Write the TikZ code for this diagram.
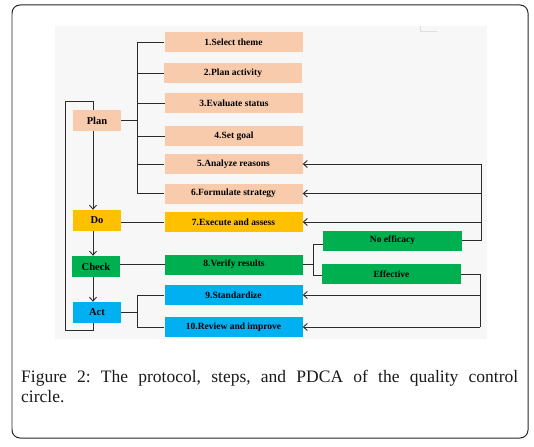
\documentclass[tikz,border=0pt]{standalone}
\usepackage{fontspec}
\setmainfont{Liberation Serif}
\usetikzlibrary{arrows.meta}
\definecolor{peach}{HTML}{F8CBAD}
\definecolor{amber}{HTML}{FFC000}
\definecolor{grn}{HTML}{00B050}
\definecolor{sky}{HTML}{00B0F0}
\definecolor{panel}{HTML}{F7F7F7}
\definecolor{ln}{HTML}{2B2B2B}
\frenchspacing
\begin{document}
\begin{tikzpicture}[x=1pt,y=-1pt,
  stepbox/.style={minimum width=138pt,minimum height=20pt,inner sep=0pt,font=\fontsize{9.5}{11}\selectfont\bfseries},
  phase/.style={minimum width=48pt,minimum height=21pt,inner sep=0pt,font=\fontsize{10.5}{12}\selectfont\bfseries},
  conn/.style={draw=ln,line width=0.9pt,line join=miter},
  arr/.style={conn,-{Straight Barb[length=4pt,width=7pt]}},
  captext/.style={anchor=base west,inner sep=0pt,font=\fontsize{17.5}{20}\selectfont\frenchspacing,text=black!90}]
\useasboundingbox (0,0) rectangle (534,446);
% frame and panel
\draw[line width=1pt,black!85,rounded corners=8pt] (12,5) rectangle (528,438);
\draw[line width=1.3pt,gray!60] (12,14) -- (12,429);
\fill[panel] (55,26) rectangle (487,339);
\draw[gray!25,line width=0.8pt] (420,26.5) -- (420,31) -- (437,31);
% step boxes
\node[stepbox,fill=peach] (s1) at (233.5,42.5) {1.Select theme};
\node[stepbox,fill=peach] (s2) at (233,73.5) {2.Plan activity};
\node[stepbox,fill=peach] (s3) at (234,103.5) {3.Evaluate status};
\node[stepbox,fill=peach] (s4) at (234,136) {4.Set goal};
\node[stepbox,fill=peach] (s5) at (233.5,164) {5.Analyze reasons};
\node[stepbox,fill=peach] (s6) at (233.5,193.5) {6.Formulate strategy};
\node[stepbox,fill=amber] (s7) at (233.5,222) {7.Execute and assess};
\node[stepbox,fill=grn] (s8) at (234,264.5) {8.Verify results};
\node[stepbox,fill=sky] (s9) at (233.5,295) {9.Standardize};
\node[stepbox,fill=sky] (s10) at (233.5,327) {10.Review and improve};
% phases
\node[phase,fill=peach] (Plan) at (97,120.5) {Plan};
\node[phase,fill=amber] (Do) at (97,220.5) {Do};
\node[phase,fill=grn] (Check) at (96,266.5) {Check};
\node[phase,fill=sky] (Act) at (97,312.5) {Act};
% outcomes
\node[stepbox,minimum width=139pt,fill=grn] (NE) at (392.5,240.5) {No efficacy};
\node[stepbox,minimum width=139pt,fill=grn] (EF) at (391.5,274) {Effective};
% helper coordinates
\coordinate (bus) at (137,0);
\coordinate (ax) at (93,0);
\coordinate (lb) at (65,330);
\coordinate (lt) at (65,101);
\coordinate (ob) at (313,0);
\coordinate (nb) at (313,244);
\coordinate (eb) at (313,275);
\coordinate (rx) at (481,0);
\coordinate (rx2) at (480,0);
% plan bus
\draw[conn] (Plan.east) -- (Plan.east -| bus);
\draw[conn] (bus |- s1.west) -- (bus |- s6.west);
\foreach \n in {s1,s2,s3,s4,s5,s6} \draw[conn] (bus |- \n.west) -- (\n.west);
% PDCA chain
\draw[arr] (Plan.south -| ax) -- (Do.north -| ax);
\draw[arr] (Do.south -| ax) -- (Check.north -| ax);
\draw[arr] (Check.south -| ax) -- (Act.north -| ax);
\draw[conn] (Do.east |- s7.west) -- (s7.west);
\draw[conn] (Check.east |- s8.west) -- (s8.west);
\draw[conn] (Act.east) -- (Act.east -| bus);
\draw[conn] (bus |- s9.west) -- (bus |- s10.west);
\draw[conn] (bus |- s9.west) -- (s9.west);
\draw[conn] (bus |- s10.west) -- (s10.west);
% loop back to plan
\draw[conn] (Act.south -| ax) -- (ax |- lb) -- (lb) -- (lt) -- (ax |- lt) -- (Plan.north -| ax);
% outcomes
\draw[conn] (s8.east) -- (s8.east -| ob);
\draw[conn] (nb) -- (eb);
\draw[conn] (nb) -- (nb -| NE.west);
\draw[conn] (eb) -- (eb -| EF.west);
\draw[conn] (NE.east) -- (NE.east -| rx) -- (rx |- s5.east);
\draw[arr] (rx |- s5.east) -- (s5.east);
\draw[arr] (rx |- s6.east) -- (s6.east);
\draw[arr] (rx |- s7.east) -- (s7.east);
\draw[conn] (EF.east) -- (EF.east -| rx2) -- (rx2 |- s10.east);
\draw[arr] (rx2 |- s10.east) -- (s10.east);
\draw[arr] (rx |- s9.east) -- (s9.east);
% caption
\node[captext] (cap1) at (21,382) {\makebox[497pt][s]{Figure 2: The protocol, steps, and PDCA of the quality control}};
\node[captext] (cap2) at (21,402) {circle.};
\end{tikzpicture}
\end{document}
